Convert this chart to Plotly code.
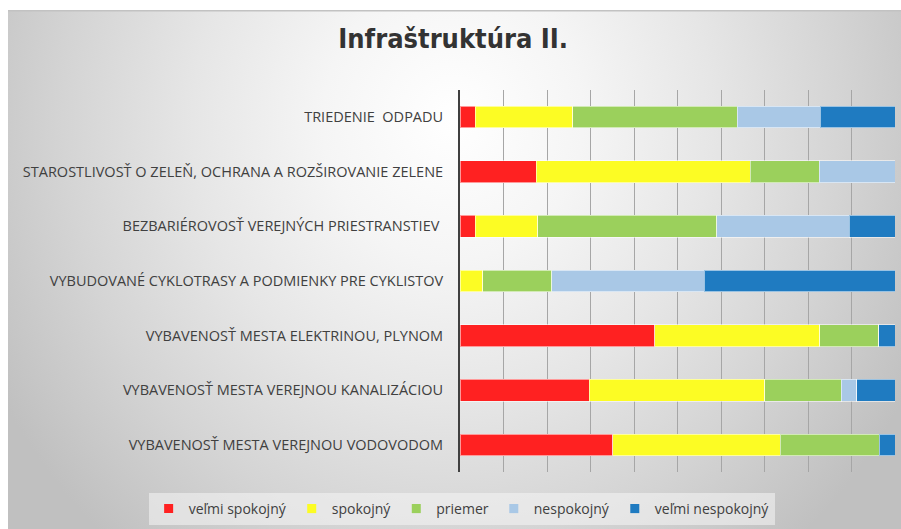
import base64
import plotly.graph_objects as go

# ---------------- data ----------------
categories = [
    "TRIEDENIE\u00a0 ODPADU",
    "STAROSTLIVOSŤ O ZELEŇ, OCHRANA A ROZŠIROVANIE ZELENE",
    "BEZBARIÉROVOSŤ VEREJNÝCH PRIESTRANSTIEV\u00a0",
    "VYBUDOVANÉ CYKLOTRASY A PODMIENKY PRE CYKLISTOV",
    "VYBAVENOSŤ MESTA ELEKTRINOU, PLYNOM",
    "VYBAVENOSŤ MESTA VEREJNOU KANALIZÁCIOU",
    "VYBAVENOSŤ MESTA VEREJNOU VODOVODOM",
]
series_names = ["veľmi spokojný", "spokojný", "priemer", "nespokojný", "veľmi nespokojný"]
velmi_spokojny = [3.5, 17.5, 3.5, 0.0, 44.8, 29.7, 35.1]
spokojny = [22.4, 49.2, 14.4, 5.2, 37.9, 40.4, 38.5]
priemer = [37.8, 15.9, 41.1, 15.9, 13.6, 17.5, 22.8]
nespokojny = [19.1, 17.4, 30.5, 35.0, 0.0, 3.6, 0.0]
velmi_nespokojny = [17.2, 0.0, 10.5, 43.9, 3.7, 8.8, 3.6]
series_values = [velmi_spokojny, spokojny, priemer, nespokojny, velmi_nespokojny]
colors = ["#FF2121", "#FCFC24", "#9BD05C", "#A9C8E6", "#1F7BC1"]
title_text = "Infraštruktúra II."

# ---------------- background (radial gradient panel) ----------------
svg = """<svg xmlns='http://www.w3.org/2000/svg' width='893' height='519' viewBox='0 0 893 519' preserveAspectRatio='none'>
<defs>
<radialGradient id='g' gradientUnits='userSpaceOnUse' cx='0' cy='0' r='1'
 gradientTransform='translate(445 110) scale(520 560)'>
<stop offset='0' stop-color='#ffffff'/>
<stop offset='0.25' stop-color='#f5f5f5'/>
<stop offset='0.5' stop-color='#e6e6e6'/>
<stop offset='0.75' stop-color='#d4d4d4'/>
<stop offset='0.9' stop-color='#c8c8c8'/>
<stop offset='1' stop-color='#c0c0c0'/>
</radialGradient>
</defs>
<rect x='0' y='0' width='893' height='519' fill='url(#g)'/>
<rect x='0' y='0' width='893' height='1.5' fill='#c2c2c2'/>
</svg>"""
bg_uri = "data:image/svg+xml;base64," + base64.b64encode(svg.encode("utf-8")).decode("ascii")

fig = go.Figure()

for name, vals, col in zip(series_names, series_values, colors):
    fig.add_trace(go.Bar(
        y=categories, x=vals, name=name, orientation="h",
        marker=dict(color=col, line=dict(color="rgba(255,255,255,0.55)", width=1)),
        showlegend=False,
    ))

# legend entries with small square markers
for name, col in zip(series_names, colors):
    fig.add_trace(go.Scatter(
        x=[None], y=[None], mode="markers", name=name,
        marker=dict(symbol="square", size=9, color=col),
        showlegend=True,
    ))

text_font = "Open Sans, Noto Sans, sans-serif"

fig.update_layout(
    width=901, height=529,
    margin=dict(l=8, r=0, t=10, b=0),
    paper_bgcolor="#ffffff",
    plot_bgcolor="rgba(0,0,0,0)",
    barmode="stack",
    bargap=0.6,
    title=dict(
        text=title_text, x=0.503, xanchor="center", y=0.928, yanchor="middle",
        font=dict(family="Liberation Sans Narrow, DejaVu Sans Condensed, Roboto, sans-serif",
                  size=27, color="#333333", weight="bold"),
    ),
    xaxis=dict(
        domain=[0.5062, 0.9933], range=[0, 100], dtick=10, tick0=0,
        showticklabels=False, showgrid=True, gridcolor="#a6a6a6", gridwidth=1,
        zeroline=False, showline=False, fixedrange=True,
    ),
    yaxis=dict(
        domain=[0.1091, 0.8466], autorange="reversed", type="category",
        showline=True, linecolor="#404040", linewidth=2,
        showgrid=False, ticks="", ticklabelstandoff=12,
        tickfont=dict(family=text_font, size=14.5, color="#404040"),
    ),
    legend=dict(
        orientation="h", x=0.508, xanchor="center", y=0.0385, yanchor="middle",
        bgcolor="rgba(245,245,245,0.55)", borderwidth=0,
        font=dict(family=text_font, size=14, color="#404040"),
        itemwidth=30, traceorder="normal",
    ),
    images=[dict(
        source=bg_uri, xref="paper", yref="paper", x=0, y=1, sizex=1, sizey=1,
        xanchor="left", yanchor="top", sizing="stretch", layer="below",
    )],
)

fig.write_html(
    "out.html",
    config={"displayModeBar": False},
    post_script="document.documentElement.style.overflow='hidden';"
                "document.body.style.margin='0';document.body.style.overflow='hidden';",
)
